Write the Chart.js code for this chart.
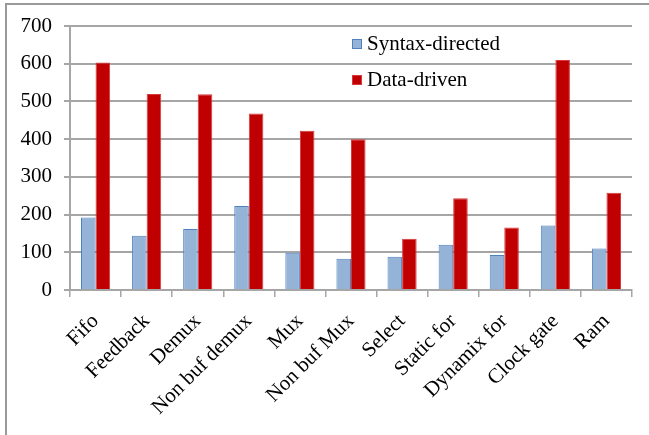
<!DOCTYPE html>
<html>
<head>
<meta charset="utf-8">
<script src="https://cdn.jsdelivr.net/npm/chart.js@4.4.1/dist/chart.umd.min.js"></script>
<style>
  html, body { margin: 0; padding: 0; background: #ffffff; }
  #wrap { position: relative; width: 649px; height: 435px; }
  #frame { position: absolute; left: 5px; top: 3px; width: 644px; height: 432px;
           border-top: 2px solid #9a9a9a; border-left: 2px solid #9a9a9a; box-sizing: border-box; }
  canvas { position: absolute; left: 0; top: 0; }
</style>
</head>
<body>
<div id="wrap">
  <div id="frame"></div>
  <canvas id="chart" width="649" height="435"></canvas>
</div>
<script>
// Test cases and their measured values for the two approaches
const categories = ['Fifo', 'Feedback', 'Demux', 'Non buf demux', 'Mux', 'Non buf Mux',
                    'Select', 'Static for', 'Dynamix for', 'Clock gate', 'Ram'];
const syntaxDirected = [192, 144, 162, 223, 99, 83, 88, 120, 93, 171, 110];
const dataDriven     = [603, 520, 519, 468, 422, 400, 136, 243, 166, 610, 258];
const yTicks = [0, 100, 200, 300, 400, 500, 600, 700];

const FONT = "'Liberation Serif', 'Times New Roman', serif";
const GRID = '#a6a6a6';

// Legend drawn inside the plot area, stacked vertically
const insideLegend = {
  id: 'insideLegend',
  afterDraw(chart) {
    const ctx = chart.ctx;
    ctx.save();
    ctx.font = '21px ' + FONT;
    ctx.textBaseline = 'middle';
    ctx.textAlign = 'left';
    const x = 352, y0 = 44, step = 36;
    chart.data.datasets.forEach((ds, i) => {
      const y = y0 + i * step;
      ctx.fillStyle = ds.backgroundColor;
      ctx.fillRect(x, y - 5, 10, 10);
      ctx.strokeStyle = ds.borderColor;
      ctx.lineWidth = 1;
      ctx.strokeRect(x + 0.5, y - 4.5, 9, 9);
      ctx.fillStyle = '#000000';
      ctx.fillText(ds.label, x + 15, y);
    });
    ctx.restore();
  }
};

new Chart(document.getElementById('chart'), {
  type: 'bar',
  data: {
    labels: categories,
    datasets: [
      { label: 'Syntax-directed', data: syntaxDirected,
        backgroundColor: '#95b3d7', borderColor: '#4f81bd', borderWidth: 1 },
      { label: 'Data-driven', data: dataDriven,
        backgroundColor: '#c00000', borderColor: '#d8393a', borderWidth: 1 }
    ]
  },
  options: {
    responsive: false,
    animation: false,
    events: [],
    layout: { padding: { left: 0, right: 17, top: 26, bottom: 0 } },
    datasets: { bar: { categoryPercentage: 0.57, barPercentage: 1.0 } },
    plugins: { legend: { display: false }, tooltip: { enabled: false } },
    scales: {
      x: {
        grid: { display: true, drawOnChartArea: false, drawTicks: true, tickLength: 7,
                color: GRID, lineWidth: 1.5 },
        border: { display: true, color: GRID, width: 2 },
        ticks: { maxRotation: 45, minRotation: 45, autoSkip: false, padding: 12,
                 color: '#000000', font: { family: FONT, size: 21 } },
        afterFit(scale) { scale.height = 145; }
      },
      y: {
        min: 0, max: 700,
        afterBuildTicks(scale) { scale.ticks = yTicks.map(v => ({ value: v })); },
        grid: { color: GRID, lineWidth: 2, tickLength: 6, drawTicks: true },
        border: { display: true, color: GRID, width: 2 },
        ticks: { padding: 12, color: '#000000', font: { family: FONT, size: 21 } },
        afterFit(scale) { scale.width = 70; }
      }
    }
  },
  plugins: [insideLegend]
});
</script>
</body>
</html>
